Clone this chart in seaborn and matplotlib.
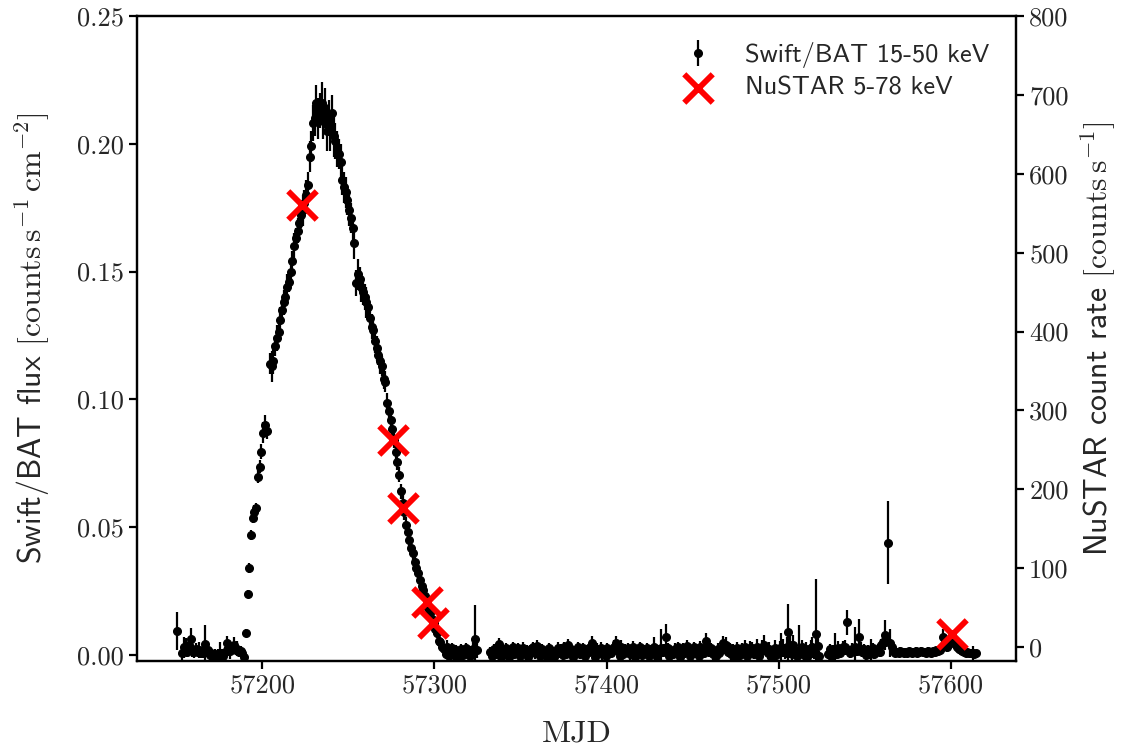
import numpy as np
import pandas as pd
import matplotlib
matplotlib.use("Agg")
import matplotlib.pyplot as plt
import seaborn as sns

# ---------------------------------------------------------------------------
# Swift/BAT 15-50 keV daily light curve (counts s^-1 cm^-2), stored as runs of
# consecutive daily bins: (first MJD of the run, fluxes, 1-sigma errors)
# ---------------------------------------------------------------------------
bat_run0_start = 57150.5
bat_run0_flux = [0.0095]
bat_run0_err = [0.0075]

bat_run1_start = 57153.5
bat_run1_flux = [0.0007, 0.0030, 0.0035, 0.0012, 0.0040, 0.0062, 0.0022, 0.0010, 0.0025, 0.0013,
                 0.0020, 0.0008, 0.0018, 0.0043, 0.0011, 0.0020, 0.0001, 0.0006, -0.0004, 0.0003,
                 -0.0008, 0.0002, -0.0010, 0.0004, -0.0005, 0.0012, 0.0046, 0.0026, 0.0016, 0.0030,
                 0.0039, 0.0020, 0.0025, 0.0012, 0.0017, 0.0008, -0.0008, 0.0087]
bat_run1_err = [0.003, 0.004, 0.003, 0.002, 0.003, 0.0045, 0.003, 0.002, 0.002, 0.002,
                0.003, 0.002, 0.003, 0.0075, 0.002, 0.003, 0.002, 0.002, 0.002, 0.002,
                0.002, 0.002, 0.006, 0.002, 0.002, 0.002, 0.003, 0.003, 0.003, 0.002,
                0.003, 0.002, 0.003, 0.002, 0.002, 0.002, 0.002, 0.0015]

bat_run2_start = 57191.5
bat_run2_flux = [0.0239, 0.0340, 0.0468, 0.0535, 0.0560, 0.0574, 0.0698, 0.0737, 0.0795, 0.0870,
                 0.0900, 0.0875]
bat_run2_err = [0.0015, 0.0018, 0.002, 0.002, 0.0025, 0.002, 0.0025, 0.0025, 0.003, 0.004,
                0.004, 0.003]

bat_run3_start = 57204.5
bat_run3_flux = [0.1140, 0.1130, 0.1150, 0.1210, 0.1240, 0.1265, 0.1310, 0.1350, 0.1380, 0.1400,
                 0.1440, 0.1460, 0.1500, 0.1540, 0.1600, 0.1630, 0.1660, 0.1690, 0.1720, 0.1740,
                 0.1770, 0.1800, 0.1840, 0.1950, 0.1990, 0.2080, 0.2100, 0.2160, 0.2100, 0.2130,
                 0.2160, 0.2090, 0.2140, 0.2050, 0.2100, 0.2050, 0.2120, 0.2030, 0.2010, 0.1980,
                 0.1960, 0.1930, 0.1860, 0.1830, 0.1810, 0.1780, 0.1740, 0.1710, 0.1670, 0.1610,
                 0.1455, 0.1490, 0.1470, 0.1440, 0.1420, 0.1400, 0.1380, 0.1360, 0.1320, 0.1285,
                 0.1270, 0.1230, 0.1200, 0.1175, 0.1150, 0.1130, 0.1080, 0.1070, 0.0985, 0.0955,
                 0.0920, 0.0885, 0.0840, 0.0795, 0.0755, 0.0705, 0.0640, 0.0595, 0.0560, 0.0510,
                 0.0480, 0.0450, 0.0420, 0.0400, 0.0365, 0.0340, 0.0320, 0.0295, 0.0270, 0.0255,
                 0.0230, 0.0205, 0.0185, 0.0165, 0.0140, 0.0125, 0.0100, 0.0085, 0.0055, 0.0050,
                 0.0030, 0.0022, 0.0005, 0.0033, -0.0004, 0.0015, 0.0026, 0.0002, 0.0018, -0.0006,
                 0.0012, 0.0024, 0.0001, 0.0016, 0.0028, 0.0004, -0.0003, 0.0015, 0.0022, 0.0062,
                 0.0020]
bat_run3_err = [0.004, 0.006, 0.005, 0.004, 0.005, 0.004, 0.005, 0.004, 0.005, 0.004,
                0.005, 0.004, 0.005, 0.004, 0.005, 0.004, 0.005, 0.005, 0.005, 0.006,
                0.005, 0.006, 0.005, 0.006, 0.006, 0.007, 0.007, 0.007, 0.008, 0.007,
                0.008, 0.007, 0.008, 0.008, 0.007, 0.008, 0.007, 0.008, 0.007, 0.007,
                0.006, 0.007, 0.006, 0.006, 0.006, 0.006, 0.006, 0.006, 0.005, 0.006,
                0.005, 0.006, 0.005, 0.006, 0.005, 0.005, 0.006, 0.005, 0.005, 0.005,
                0.005, 0.005, 0.005, 0.004, 0.005, 0.004, 0.004, 0.004, 0.004, 0.004,
                0.003, 0.004, 0.003, 0.003, 0.003, 0.003, 0.003, 0.003, 0.003, 0.003,
                0.002, 0.003, 0.002, 0.003, 0.002, 0.002, 0.002, 0.002, 0.002, 0.002,
                0.002, 0.002, 0.002, 0.002, 0.002, 0.002, 0.002, 0.002, 0.002, 0.002,
                0.002, 0.002, 0.002, 0.0025, 0.002, 0.002, 0.002, 0.002, 0.002, 0.002,
                0.002, 0.002, 0.002, 0.002, 0.002, 0.002, 0.002, 0.002, 0.003, 0.0135,
                0.003]

bat_run4_start = 57332.5
bat_run4_flux = [0.0013, -0.0004, 0.0024, 0.0005, 0.0030, 0.0043, -0.0006, 0.0018, 0.0002, 0.0027,
                 0.0020, -0.0008, 0.0016, 0.0031, 0.0004, 0.0011, 0.0026, -0.0005, 0.0014, 0.0029,
                 0.0009, 0.0021, -0.0007, 0.0018, 0.0012, 0.0030, 0.0006, 0.0035, 0.0015, -0.0003,
                 0.0024, 0.0004, 0.0013, -0.0006, 0.0027, 0.0006, 0.0017, -0.0009, 0.0014, 0.0029,
                 0.0008, 0.0022, -0.0002, 0.0030, 0.0005, 0.0039, 0.0013, 0.0025, -0.0007, 0.0017,
                 0.0010, 0.0032, 0.0003, 0.0015, 0.0027, -0.0005, 0.0018, 0.0012, 0.0031, 0.0048,
                 0.0014, -0.0006, 0.0025, 0.0011, 0.0029, 0.0002, 0.0016, -0.0004, 0.0026, 0.0013,
                 0.0007, 0.0024, 0.0033, 0.0046, 0.0015, -0.0005, 0.0032, 0.0005, 0.0022, 0.0012,
                 0.0028, 0.0002, 0.0015, 0.0033, -0.0007, 0.0019, 0.0011, 0.0030, 0.0001, 0.0021,
                 0.0013, 0.0027, -0.0003, 0.0018, 0.0010, 0.0030, 0.0015, -0.0006, 0.0020, 0.0026,
                 0.0012, 0.0024, 0.0072, 0.0028, -0.0004, 0.0016, 0.0004, 0.0025, 0.0011, 0.0031,
                 -0.0006, 0.0015, 0.0027, 0.0010, 0.0034, 0.0013, -0.0003, 0.0018, 0.0030, 0.0009,
                 0.0021, -0.0005, 0.0030, 0.0020, 0.0008, 0.0055, 0.0036, 0.0014, 0.0028, 0.0002,
                 0.0017, -0.0004, 0.0025, 0.0009, 0.0024, 0.0046, 0.0028, 0.0040, 0.0013, 0.0027,
                 0.0002, 0.0023, -0.0006, 0.0029, 0.0015, 0.0001, 0.0026, 0.0012, 0.0033, -0.0004,
                 0.0016, 0.0028, 0.0026, 0.0003, 0.0019, 0.0031, -0.0005, 0.0017, 0.0029, 0.0039,
                 0.0020, 0.0006, 0.0024, -0.0007, 0.0015, 0.0029, -0.0002, 0.0014, 0.0026, 0.0027,
                 0.0026, 0.0010, 0.0030, 0.0091, 0.0040, 0.0002, 0.0039, 0.0021, -0.0004, 0.0007,
                 0.0015, 0.0030, 0.0001, 0.0024, -0.0006, 0.0013, 0.0028, 0.0030, 0.0010, 0.0082,
                 0.0035, -0.0003]
bat_run4_err = [0.002, 0.002, 0.002, 0.002, 0.002, 0.0025, 0.002, 0.002, 0.002, 0.002,
                0.002, 0.002, 0.002, 0.002, 0.002, 0.002, 0.002, 0.002, 0.002, 0.002,
                0.002, 0.002, 0.002, 0.002, 0.002, 0.002, 0.002, 0.0025, 0.002, 0.002,
                0.002, 0.002, 0.002, 0.002, 0.002, 0.002, 0.002, 0.002, 0.002, 0.002,
                0.002, 0.002, 0.002, 0.002, 0.002, 0.0025, 0.002, 0.002, 0.002, 0.002,
                0.002, 0.002, 0.002, 0.002, 0.002, 0.002, 0.002, 0.002, 0.002, 0.0025,
                0.002, 0.002, 0.002, 0.002, 0.002, 0.002, 0.002, 0.002, 0.002, 0.002,
                0.002, 0.002, 0.0025, 0.003, 0.002, 0.002, 0.0025, 0.002, 0.002, 0.002,
                0.002, 0.002, 0.002, 0.002, 0.002, 0.002, 0.002, 0.002, 0.002, 0.002,
                0.002, 0.002, 0.002, 0.002, 0.002, 0.004, 0.002, 0.002, 0.002, 0.0075,
                0.002, 0.002, 0.005, 0.002, 0.002, 0.002, 0.002, 0.002, 0.002, 0.002,
                0.002, 0.002, 0.002, 0.002, 0.0025, 0.002, 0.002, 0.002, 0.002, 0.002,
                0.002, 0.002, 0.0025, 0.002, 0.002, 0.003, 0.0025, 0.002, 0.002, 0.002,
                0.002, 0.002, 0.002, 0.002, 0.002, 0.003, 0.0025, 0.003, 0.002, 0.002,
                0.002, 0.002, 0.002, 0.002, 0.002, 0.002, 0.002, 0.002, 0.0025, 0.002,
                0.002, 0.0025, 0.0025, 0.002, 0.002, 0.003, 0.002, 0.002, 0.003, 0.004,
                0.0025, 0.002, 0.0025, 0.002, 0.002, 0.003, 0.002, 0.002, 0.003, 0.006,
                0.0035, 0.0025, 0.004, 0.011, 0.005, 0.0025, 0.004, 0.003, 0.002, 0.011,
                0.002, 0.003, 0.002, 0.0025, 0.002, 0.002, 0.003, 0.004, 0.0025, 0.0215,
                0.004, 0.002]

bat_run5_start = 57528.5
bat_run5_flux = [0.0005, 0.0022, -0.0004, 0.0018, 0.0020, 0.0004, 0.0028, 0.0008, 0.0021, 0.0030,
                 0.0030, 0.0128, 0.0014, 0.0009, 0.0023, 0.0020, 0.0030, 0.0016, 0.0072, 0.0025,
                 0.0011, 0.0024, -0.0002, 0.0019, 0.0004, 0.0022, 0.0026, 0.0003, 0.0012, 0.0024,
                 0.0012, 0.0039, 0.0052, 0.0078, 0.0060, 0.0440, 0.0048, 0.0030, 0.0016, 0.0009,
                 0.0013, 0.0008, 0.0015, 0.0011, 0.0007, 0.0012, 0.0009, 0.0014, 0.0010, 0.0006,
                 0.0011, 0.0015, 0.0008, 0.0012, 0.0017, 0.0010, 0.0013, 0.0007, 0.0015, 0.0011,
                 0.0009, 0.0014, 0.0012, 0.0018, 0.0016, 0.0020, 0.0031, 0.0072, 0.0050, 0.0033,
                 0.0040, 0.0060, 0.0059, 0.0055, 0.0043, 0.0030, 0.0025, 0.0020, 0.0014, 0.0010,
                 0.0007, 0.0012, 0.0009, 0.0008, 0.0006, 0.0005, 0.0006]
bat_run5_err = [0.002, 0.002, 0.002, 0.002, 0.0065, 0.002, 0.0025, 0.002, 0.002, 0.0025,
                0.003, 0.0049, 0.002, 0.002, 0.0025, 0.002, 0.008, 0.002, 0.007, 0.0025,
                0.002, 0.002, 0.002, 0.002, 0.002, 0.004, 0.002, 0.002, 0.002, 0.002,
                0.002, 0.0025, 0.003, 0.006, 0.003, 0.0163, 0.0055, 0.0025, 0.002, 0.0015,
                0.0015, 0.0015, 0.0015, 0.0015, 0.0015, 0.0015, 0.0015, 0.0015, 0.0015, 0.0015,
                0.0015, 0.0015, 0.0015, 0.0015, 0.0015, 0.0015, 0.0015, 0.0015, 0.0015, 0.0015,
                0.0015, 0.0015, 0.0015, 0.0015, 0.0015, 0.002, 0.002, 0.003, 0.0025, 0.002,
                0.002, 0.002, 0.002, 0.002, 0.002, 0.002, 0.002, 0.0015, 0.0015, 0.0015,
                0.0015, 0.0015, 0.0015, 0.0015, 0.003, 0.0015, 0.0015]

# NuSTAR 5-78 keV observations (counts s^-1)
nustar_mjd = [57223.0, 57275.8, 57281.6, 57295.7, 57299.0, 57600.7]
nustar_rate = [560, 262, 176, 57, 30, 16]


def collect_runs(runs):
    mjd, flux, err = [], [], []
    for start, f, e in runs:
        mjd.extend(start + np.arange(len(f)))
        flux.extend(f)
        err.extend(e)
    return pd.DataFrame({"MJD": mjd, "flux": flux, "err": err})


bat = collect_runs([
    (bat_run0_start, bat_run0_flux, bat_run0_err),
    (bat_run1_start, bat_run1_flux, bat_run1_err),
    (bat_run2_start, bat_run2_flux, bat_run2_err),
    (bat_run3_start, bat_run3_flux, bat_run3_err),
    (bat_run4_start, bat_run4_flux, bat_run4_err),
    (bat_run5_start, bat_run5_flux, bat_run5_err),
])
nustar = pd.DataFrame({"MJD": nustar_mjd, "rate": nustar_rate})

# ---------------------------------------------------------------------------
sns.set_theme(style="ticks", rc={
    "axes.linewidth": 1.6,
    "xtick.major.width": 1.6, "ytick.major.width": 1.6,
    "xtick.major.size": 6, "ytick.major.size": 6,
    "xtick.direction": "out", "ytick.direction": "out",
})
plt.rcParams["font.family"] = ["cmr10"]
plt.rcParams["mathtext.fontset"] = "cm"
plt.rcParams["axes.formatter.use_mathtext"] = True
plt.rcParams["axes.unicode_minus"] = False

TICK_FS = 19
LABEL_FS = 23
SANS = "cmss10"

fig = plt.figure(figsize=(11.23, 7.49), dpi=100)
ax = fig.add_axes([0.122, 0.1175, 0.7827, 0.8611])
ax2 = ax.twinx()

ax.errorbar(bat["MJD"], bat["flux"], yerr=bat["err"], fmt="o", ms=5.5,
            color="black", ecolor="black", elinewidth=1.6, capsize=0,
            label="Swift/BAT 15-50 keV", zorder=2)
sns.scatterplot(data=nustar, x="MJD", y="rate", marker="x", s=420,
                color="red", linewidth=4.2, ax=ax2, zorder=3,
                label="NuSTAR 5-78 keV", legend=False)

ax.set_ylim(-0.00235, 0.25)
ax2.set_ylim(-17.7, 800)
ax.set_yticks([0.00, 0.05, 0.10, 0.15, 0.20, 0.25])
ax.set_yticklabels([f"{v:.2f}" for v in [0.00, 0.05, 0.10, 0.15, 0.20, 0.25]])
ax2.set_yticks(list(range(0, 801, 100)))
ax2.set_yticklabels([str(v) for v in range(0, 801, 100)])
ax.set_xticks([57200, 57300, 57400, 57500, 57600])
ax.set_xticklabels(["57200", "57300", "57400", "57500", "57600"])

for a in (ax, ax2):
    a.tick_params(labelsize=TICK_FS, width=1.6, length=6, color="black")
    for s in a.spines.values():
        s.set_visible(True)
        s.set_color("black")
        s.set_linewidth(1.6)
ax2.tick_params(axis="y", right=True, left=False)
ax.tick_params(axis="y", left=True, right=False)

ax.set_xlabel(r"MJD", fontsize=LABEL_FS, family="cmr10", labelpad=16)
ax.set_ylabel(r"Swift/BAT flux $[\mathrm{counts\,s^{-1}\,cm^{-2}}]$",
              fontsize=LABEL_FS, family=SANS, labelpad=18)
ax2.set_ylabel(r"NuSTAR count rate $[\mathrm{counts\,s^{-1}}]$",
               fontsize=LABEL_FS, family=SANS, labelpad=7)
ax2.set_xlabel("")

h1, l1 = ax.get_legend_handles_labels()
h2, l2 = ax2.get_legend_handles_labels()
ax2.legend(h1 + h2, l1 + l2, loc="upper right", frameon=False,
           prop={"family": SANS, "size": 19}, handletextpad=0.8,
           borderaxespad=0.6, labelspacing=0.3)

fig.savefig("out.png", dpi=100)
